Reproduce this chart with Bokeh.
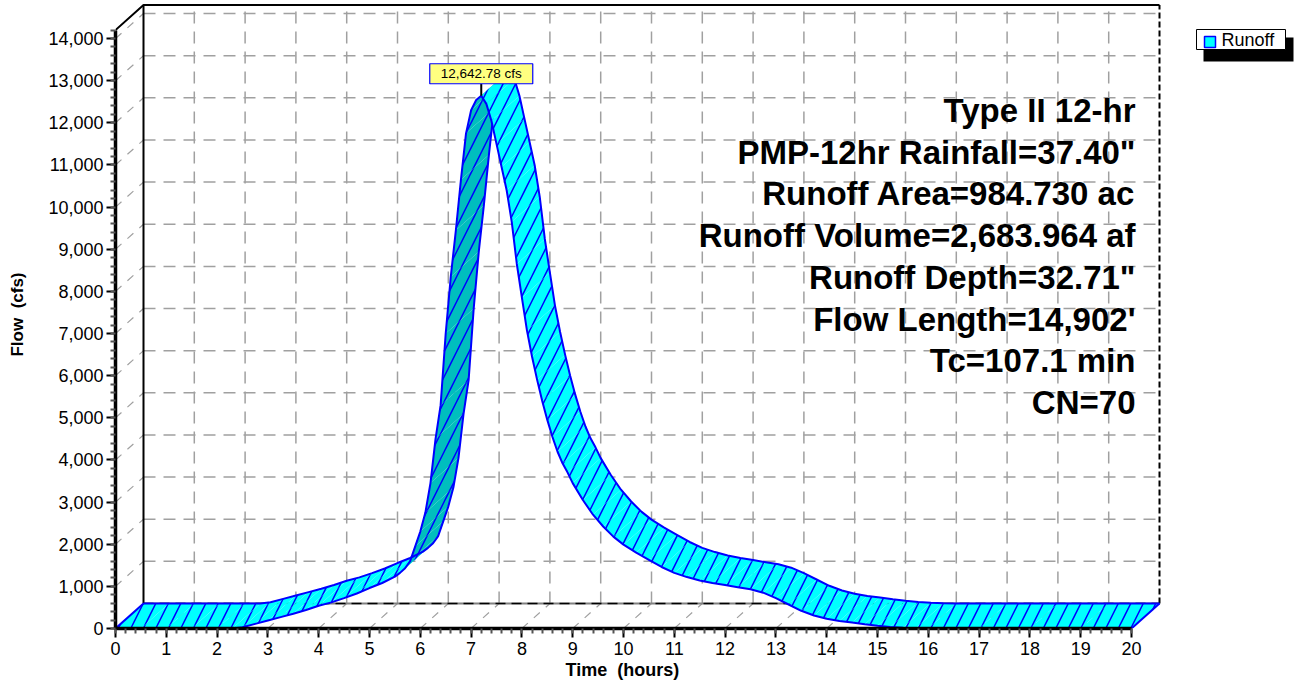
import numpy as np
from bokeh.plotting import figure
from bokeh.models import Range1d, SingleIntervalTicker, NumeralTickFormatter, Label, Title
from bokeh.embed import file_html
from bokeh.resources import INLINE
from bokeh.core.properties import value

# ---------------- data ----------------
hours = [0, 0.5, 1.0, 1.5, 2.0, 2.3, 2.5, 2.75, 3.0, 3.25, 3.5, 3.75, 4.0, 4.25, 4.5,
         4.75, 5.0, 5.25, 5.5, 5.6, 5.7, 5.8, 5.9, 6.0, 6.1, 6.2, 6.3, 6.4, 6.5, 6.6,
         6.7, 6.8, 6.9, 7.0, 7.1, 7.2, 7.3, 7.4, 7.5, 7.6, 7.7, 7.8, 7.9, 8.0, 8.1,
         8.2, 8.3, 8.4, 8.5, 8.6, 8.7, 8.8, 8.9, 9.0, 9.2, 9.4, 9.6, 9.8, 10.0, 10.25,
         10.5, 10.75, 11.0, 11.25, 11.5, 11.75, 12.0, 12.25, 12.5, 12.75, 13.0, 13.25,
         13.5, 13.75, 14.0, 14.25, 14.5, 14.75, 15.0, 15.25, 15.5, 15.75, 16.0, 17.0,
         18.0, 19.0, 20.0]
flow_cfs = [0, 0, 0, 0, 0, 0, 30, 110, 190, 270, 350, 440, 540, 620, 720,
            830, 960, 1080, 1230, 1320, 1430, 1600, 1950, 2300, 2750, 3450, 4500, 5300, 7000, 8350,
            9450, 10650, 11750, 12300, 12540, 12642.78, 12450, 12050, 11500, 10950, 10400, 9650, 8650, 7850, 7070,
            6450, 5900, 5400, 4950, 4550, 4200, 3920, 3700, 3450, 3050, 2700, 2420, 2180, 1990, 1800,
            1630, 1460, 1320, 1220, 1140, 1080, 1030, 980, 930, 850, 720, 570,
            420, 310, 230, 180, 140, 100, 65, 35, 15, 5, 0, 0,
            0, 0, 0]
x_tick_max = 20
y_tick_step = 1000
y_axis_max = 14200
peak_flow = 12642.78
series_name = "Runoff"
x_title = "Time\u00a0 (hours)"
y_title = "Flow\u00a0 (cfs)"
info_lines = ["Type II 12-hr",
              'PMP-12hr Rainfall=37.40"',
              "Runoff Area=984.730 ac",
              "Runoff Volume=2,683.964 af",
              'Runoff Depth=32.71"',
              "Flow Length=14,902'",
              "Tc=107.1 min",
              "CN=70"]

# ---------------- layout constants ----------------
W, H = 1294, 684
LEFT, BOTTOM = 115, 56
FRAME_H = H - BOTTOM
PX_PER_HR = 50.8
PX_PER_CFS = 42.14 / 1000.0
X_END = (W - LEFT) / PX_PER_HR
Y_END = FRAME_H / PX_PER_CFS
DX = 28 / PX_PER_HR          # depth offset in hours
DY = 25 / PX_PER_CFS         # depth offset in cfs

def px(xp):
    return (xp - LEFT) / PX_PER_HR

def py(yp):
    return (FRAME_H - yp) / PX_PER_CFS

FONT = "Liberation Sans"
GRID = "#A0A0A0"
BLUE = "#0000FF"
CYAN = "#00FFFF"
TEAL = "#00BEBE"

p = figure(width=W, height=H, x_range=Range1d(0, X_END), y_range=Range1d(0, Y_END),
           min_border_left=LEFT, min_border_bottom=BOTTOM, min_border_top=0, min_border_right=0,
           output_backend="svg", toolbar_location=None)
p.outline_line_color = None
p.grid.visible = False
p.background_fill_color = "white"
p.border_fill_color = "white"

# ---------------- back wall grid ----------------
vx = [[k + DX, k + DX] for k in range(1, x_tick_max)]
vy = [[DY, y_axis_max + DY] for k in range(1, x_tick_max)]
p.multi_line(vx, vy, line_color=GRID, line_width=1.5, line_dash="12 8")
yk = list(range(y_tick_step, y_axis_max, y_tick_step))
hx = [[DX, x_tick_max + DX] for v in yk]
hy = [[v + DY, v + DY] for v in yk]
p.multi_line(hx, hy, line_color=GRID, line_width=1.5, line_dash="12 8")
# left wall diagonals
p.multi_line([[0, DX] for v in yk], [[v, v + DY] for v in yk],
             line_color=GRID, line_width=1.2, line_dash="8 8")
# floor diagonals
p.multi_line([[k, k + DX] for k in range(1, x_tick_max)], [[0, DY] for k in range(1, x_tick_max)],
             line_color=GRID, line_width=1.2, line_dash="8 8")
# back floor line
p.line([DX, x_tick_max + DX], [DY, DY], line_color="#808080", line_width=2)
p.line([DX, x_tick_max + DX], [DY, DY], line_color="black", line_width=1.5, line_dash="10 6")
# frame
p.line([0, DX, x_tick_max + DX], [y_axis_max, y_axis_max + DY, y_axis_max + DY],
       line_color="black", line_width=2)
p.line([DX, DX], [DY, y_axis_max + DY], line_color="black", line_width=2)
p.line([x_tick_max + DX, x_tick_max + DX], [DY, y_axis_max + DY], line_color="black",
       line_width=2, line_dash="6 3")

# ---------------- 3D ribbon ----------------
t = np.array(hours, dtype=float)
q = np.array(flow_cfs, dtype=float)
ipk = int(np.argmax(q))

def quads(i0, i1):
    xs, ys, cols = [], [], []
    for i in range(i0, i1):
        xs.append([t[i], t[i + 1], t[i + 1] + DX, t[i] + DX])
        ys.append([q[i], q[i + 1], q[i + 1] + DY, q[i] + DY])
        sx = (t[i + 1] - t[i]) * PX_PER_HR
        su = (q[i + 1] - q[i]) * PX_PER_CFS
        cols.append(TEAL if su * 28 > sx * 25 else CYAN)
    return xs, ys, cols

def draw_part(i0, i1):
    xs, ys, cols = quads(i0, i1)
    p.patches(xs, ys, fill_color=cols, line_color=None, line_width=0,
              hatch_pattern="/", hatch_color=BLUE, hatch_weight=1.5, hatch_scale=25)
    p.line(t[i0:i1 + 1], q[i0:i1 + 1], line_color=BLUE, line_width=2)
    p.line(t[i0:i1 + 1] + DX, q[i0:i1 + 1] + DY, line_color=BLUE, line_width=2)

draw_part(0, ipk)
draw_part(ipk, len(t) - 1)
p.line([t[0], t[0] + DX], [q[0], q[0] + DY], line_color=BLUE, line_width=2)
p.line([t[-1], t[-1] + DX], [q[-1], q[-1] + DY], line_color=BLUE, line_width=2)

# ---------------- peak label ----------------
tp, qp = t[ipk], q[ipk]
box_half = 51.5 / PX_PER_HR
p.line([tp, tp], [qp, qp + 12 / PX_PER_CFS], line_color="black", line_width=2)
p.quad(left=[tp - box_half], right=[tp + box_half], bottom=[qp + 12 / PX_PER_CFS],
       top=[qp + 32 / PX_PER_CFS], fill_color="#FFFF80", line_color=BLUE, line_width=1.2)
p.text(x=[tp], y=[qp + 22 / PX_PER_CFS], text=[f"{peak_flow:,.2f} cfs"],
       text_align="center", text_baseline="middle", text_font=value(FONT),
       text_font_size="13.5px", text_color="black")

# ---------------- info text ----------------
for i, s in enumerate(info_lines):
    p.add_layout(Label(x=px(1135), y=py(110 + i * 41.7), text=s, text_align="right",
                       text_baseline="alphabetic", text_font=FONT, text_font_size="33px",
                       text_font_style="bold", text_color="black"))

# ---------------- legend ----------------
p.quad(left=[px(1203)], right=[px(1293)], bottom=[py(61)], top=[py(37)],
       fill_color="black", line_color=None)
p.quad(left=[px(1196)], right=[px(1285)], bottom=[py(49)], top=[py(29)],
       fill_color="white", line_color="black", line_width=1)
p.quad(left=[px(1204)], right=[px(1215)], bottom=[py(47)], top=[py(36)],
       fill_color=CYAN, line_color=BLUE, line_width=1.5)
p.add_layout(Label(x=px(1221), y=py(39.5), text=series_name, text_align="left",
                   text_baseline="middle", text_font=FONT, text_font_size="18px",
                   text_color="black"))

# ---------------- axes ----------------
xa = p.xaxis[0]
xa.bounds = (0, x_tick_max)
xa.ticker = SingleIntervalTicker(interval=1, num_minor_ticks=5)
ya = p.yaxis[0]
ya.bounds = (0, y_axis_max)
ya.ticker = SingleIntervalTicker(interval=y_tick_step, num_minor_ticks=5)
ya.formatter = NumeralTickFormatter(format="0,0")
for ax in (xa, ya):
    ax.axis_line_width = 3.5
    ax.axis_line_color = "black"
    ax.major_tick_line_width = 2
    ax.minor_tick_line_width = 2
    ax.major_tick_line_color = "black"
    ax.minor_tick_line_color = "#555555"
    ax.major_tick_in = 0
    ax.minor_tick_in = 0
    ax.major_tick_out = 9
    ax.minor_tick_out = 5
    ax.major_label_text_font = FONT
    ax.major_label_text_font_size = "18px"
    ax.major_label_text_color = "black"
    ax.axis_label_text_font = FONT
    ax.axis_label_text_font_size = "17px"
    ax.axis_label_text_font_style = "bold"
    ax.axis_label_text_color = "black"
ya.axis_label = y_title
xa.major_label_standoff = 4
ya.major_label_standoff = 3
ya.axis_label_standoff = 18

# x axis title centred under the 0-20 axis span
title_w = 116
p.add_layout(Title(text=x_title, align="left", offset=x_tick_max / 2 * PX_PER_HR - title_w / 2,
                   text_font=FONT, text_font_size="18px", text_font_style="bold",
                   text_color="black", standoff=1), "below")

open("out.html", "w").write(file_html(p, INLINE))
